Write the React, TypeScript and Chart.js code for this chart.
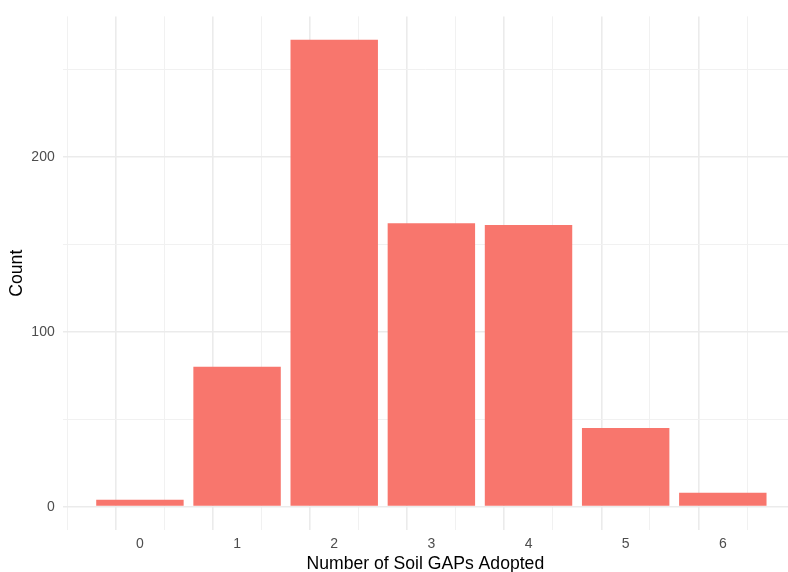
import React, { useEffect, useRef } from "react";
import { Chart, registerables } from "chart.js";

Chart.register(...registerables);

const categories = [0, 1, 2, 3, 4, 5, 6];
const counts = [4, 80, 267, 162, 161, 45, 8];
const xTicks = [-0.5, 0, 0.5, 1, 1.5, 2, 2.5, 3, 3.5, 4, 4.5, 5, 5.5, 6, 6.5];
const yTicks = [0, 50, 100, 150, 200, 250];
const yLabels = [0, 100, 200];
const xTitle = "Number of Soil GAPs Adopted";
const yTitle = "Count";

const FONT = "'Liberation Sans', Arial, sans-serif";

export default function App() {
  const ref = useRef<HTMLCanvasElement | null>(null);

  useEffect(() => {
    document.body.style.margin = "0";
    const canvas = ref.current;
    if (!canvas) return;
    const chart = new Chart(canvas, {
      type: "bar",
      data: {
        datasets: [
          {
            data: categories.map((c, i) => ({ x: c, y: counts[i] })),
            backgroundColor: "#F8766D",
            borderWidth: 0,
            categoryPercentage: 1,
            // the ruler's smallest interval is the half-unit grid step, so 1.8 gives 0.9 of a unit
            barPercentage: 1.8,
          },
        ],
      },
      options: {
        responsive: false,
        animation: false,
        events: [],
        layout: { padding: { top: 13.3, left: 0, right: 0, bottom: 0 } },
        plugins: { legend: { display: false }, tooltip: { enabled: false } },
        scales: {
          x: {
            type: "linear",
            min: -0.795,
            max: 6.671,
            offset: false,
            afterBuildTicks: (s: any) => {
              s.ticks = xTicks.map((v) => ({ value: v }));
            },
            afterFit: (s: any) => {
              s.height = 42;
            },
            border: { display: false },
            grid: {
              drawTicks: false,
              color: (ctx: any) => (Number.isInteger(ctx.tick?.value) ? "#ebebeb" : "#f1f1f1"),
              lineWidth: (ctx: any) => (Number.isInteger(ctx.tick?.value) ? 1.6 : 1),
            },
            ticks: {
              autoSkip: false,
              maxRotation: 0,
              padding: 6,
              color: "#4D4D4D",
              font: { family: FONT, size: 14 },
              callback: (v: any) => (Number.isInteger(v) ? String(v) : ""),
            },
            title: {
              display: true,
              text: xTitle,
              color: "#000000",
              font: { family: FONT, size: 17.6, lineHeight: 1 },
              padding: { top: 0, bottom: -1 },
            },
          },
          y: {
            type: "linear",
            min: -13.35,
            max: 280.35,
            afterBuildTicks: (s: any) => {
              s.ticks = yTicks.map((v) => ({ value: v }));
            },
            afterFit: (s: any) => {
              s.width = 62.7;
            },
            border: { display: false },
            grid: {
              drawTicks: false,
              color: (ctx: any) => (yLabels.includes(ctx.tick?.value) ? "#ebebeb" : "#f1f1f1"),
              lineWidth: (ctx: any) => (yLabels.includes(ctx.tick?.value) ? 1.6 : 1),
            },
            ticks: {
              padding: 8,
              color: "#4D4D4D",
              font: { family: FONT, size: 14 },
              callback: (v: any) => (yLabels.includes(v) ? String(v) : ""),
            },
            title: {
              display: true,
              text: yTitle,
              color: "#000000",
              font: { family: FONT, size: 17.6, lineHeight: 1 },
              padding: { top: 8, bottom: 0 },
            },
          },
        },
      },
    } as any);
    return () => chart.destroy();
  }, []);

  return (
    <div style={{ width: 788, height: 572, background: "#ffffff" }}>
      <canvas ref={ref} width={788} height={572} style={{ display: "block" }} />
    </div>
  );
}
